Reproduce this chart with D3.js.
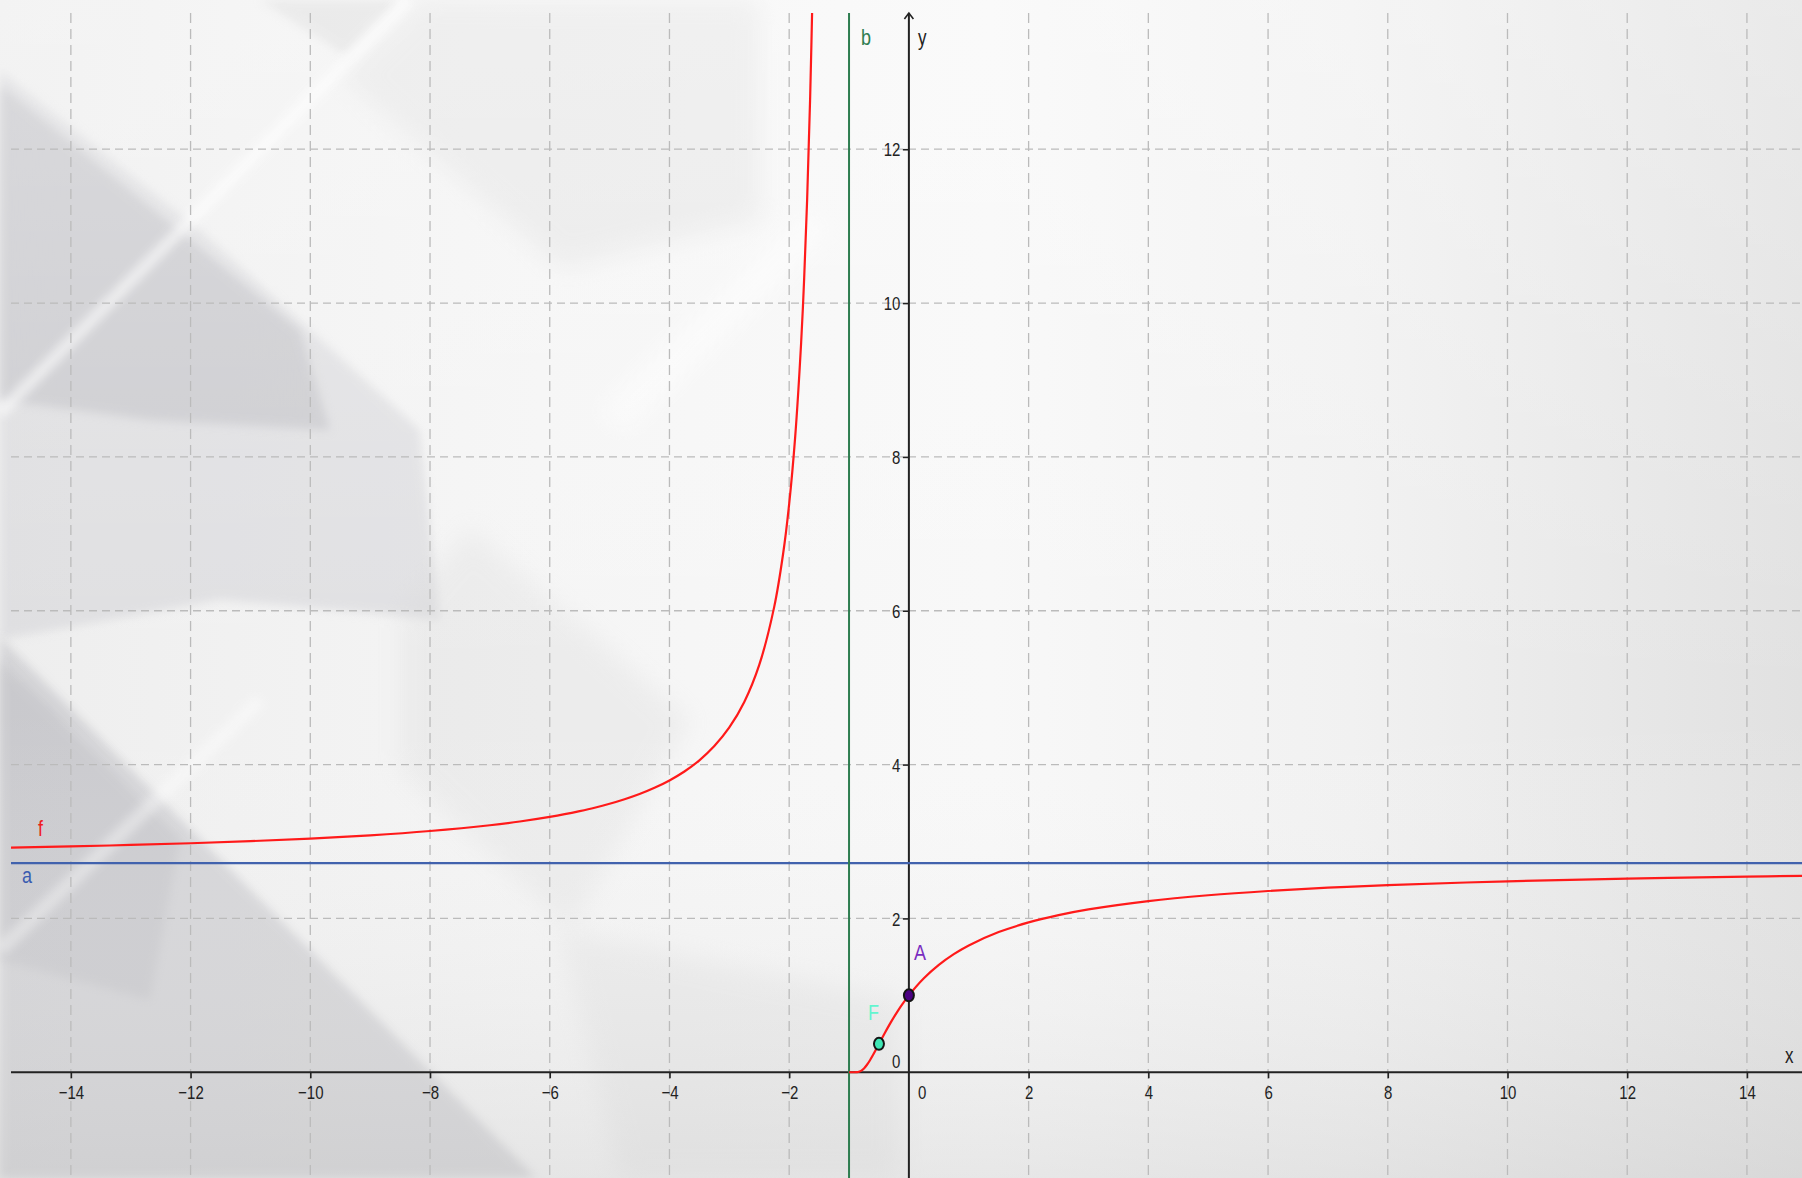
<!DOCTYPE html>
<html>
<head>
<meta charset="utf-8">
<script src="https://cdn.jsdelivr.net/npm/d3@7"></script>
<style>
  body { margin: 0; overflow: hidden; background: #f2f2f2; }
  svg { display: block; }
</style>
</head>
<body>
<div class="graph"></div>
<script>
// f(x), left and right of the pole at x = -1
var leftX = [-15, -14, -13, -12, -11, -10, -9, -8, -7, -6.5, -6, -5.75, -5.5, -5.25, -5, -4.75, -4.5, -4.25, -4, -3.75, -3.5, -3.25, -3, -2.75, -2.5, -2.25, -2.1, -2, -1.9, -1.8, -1.75, -1.7, -1.65, -1.6];
var leftY = [2.920, 2.936, 2.955, 2.977, 3.004, 3.038, 3.080, 3.136, 3.211, 3.260, 3.320, 3.355, 3.395, 3.439, 3.490, 3.549, 3.617, 3.698, 3.794, 3.910, 4.055, 4.240, 4.482, 4.814, 5.295, 6.050, 6.747, 7.389, 8.257, 9.488, 10.312, 11.343, 12.660, 14.392];
var rightX = [-1, -0.95, -0.9, -0.85, -0.8, -0.75, -0.7, -0.65, -0.6, -0.55, -0.5, -0.45, -0.4, -0.3, -0.2, -0.1, 0, 0.25, 0.5, 0.75, 1, 1.5, 2, 2.5, 3, 4, 5, 6, 7, 8, 10, 12, 14, 15];
var rightY = [0, 0, 0.0001, 0.0035, 0.0183, 0.0498, 0.0970, 0.1561, 0.2231, 0.2946, 0.3679, 0.4412, 0.5134, 0.6514, 0.7788, 0.8948, 1, 1.2214, 1.3956, 1.5351, 1.6487, 1.8221, 1.9477, 2.0427, 2.1170, 2.2255, 2.3010, 2.3564, 2.3989, 2.4324, 2.4821, 2.5170, 2.5430, 2.5536];

var lineA = 2.718;   // horizontal line a
var lineB = -1;      // vertical line b
var pointNames = ["A", "F"];
var pointX = [0, -0.5];
var pointY = [1, 0.37];

var xTicks = [-14, -12, -10, -8, -6, -4, -2, 2, 4, 6, 8, 10, 12, 14];
var yTicks = [2, 4, 6, 8, 10, 12];

var svg_w = 1802;
var svg_h = 1178;
var plotLeft = 11, plotTop = 13;
var stretch = 1.25; // the screenshot is stretched vertically

var svg = d3.select("div.graph").append("svg")
	.attr("width", svg_w)
	.attr("height", svg_h);

var x = d3.scaleLinear().domain([-15, 14.92]).range([plotLeft, svg_w]);
var y = d3.scaleLinear().domain([-1.375, 13.94]).range([svg_h, 0]);

var defs = svg.append("defs");

// background gradients
var g1 = defs.append("linearGradient").attr("id", "bgH")
	.attr("x1", 0).attr("x2", 1).attr("y1", 0).attr("y2", 0);
[["0%", "#eeeeee"], ["30%", "#f5f5f5"], ["55%", "#f8f8f8"], ["75%", "#f1f1f1"], ["100%", "#e1e1e1"]]
	.forEach(function(s) { g1.append("stop").attr("offset", s[0]).attr("stop-color", s[1]); });

var g2 = defs.append("linearGradient").attr("id", "bgV")
	.attr("x1", 0).attr("x2", 0).attr("y1", 0).attr("y2", 1);
g2.append("stop").attr("offset", "0%").attr("stop-color", "#ffffff").attr("stop-opacity", 0.3);
g2.append("stop").attr("offset", "60%").attr("stop-color", "#ffffff").attr("stop-opacity", 0);
g2.append("stop").attr("offset", "100%").attr("stop-color", "#c8c8c8").attr("stop-opacity", 0.35);

var pat = defs.append("pattern").attr("id", "stripes")
	.attr("width", 8).attr("height", 8)
	.attr("patternUnits", "userSpaceOnUse")
	.attr("patternTransform", "rotate(40)");
pat.append("rect").attr("width", 8).attr("height", 8).attr("fill", "#c6c6ca");
pat.append("rect").attr("width", 8).attr("height", 3).attr("fill", "#b2b2b8");

defs.append("filter").attr("id", "soft")
	.attr("x", "-20%").attr("y", "-20%").attr("width", "140%").attr("height", "140%")
	.append("feGaussianBlur").attr("stdDeviation", 5);
defs.append("filter").attr("id", "softer")
	.attr("x", "-20%").attr("y", "-20%").attr("width", "140%").attr("height", "140%")
	.append("feGaussianBlur").attr("stdDeviation", 12);

defs.append("clipPath").attr("id", "plotClip")
	.append("rect")
	.attr("x", plotLeft).attr("y", plotTop)
	.attr("width", svg_w - plotLeft).attr("height", svg_h - plotTop);

var bg = svg.append("g").attr("class", "background");
bg.append("rect").attr("width", svg_w).attr("height", svg_h).attr("fill", "url(#bgH)");

// diagonal grey bands of the picture background
var shapes = [
	{ pts: [[342, 77], [420, 0], [760, 0], [760, 220], [561, 268]], fill: "#dcdcdc", op: 0.45, f: "softer" },
	{ pts: [[260, 0], [400, 0], [345, 55]], fill: "#d4d4d4", op: 0.5, f: "soft" },
	{ pts: [[0, 70], [200, 230], [420, 430], [440, 620], [220, 600], [0, 640]], fill: "#d2d2d6", op: 0.55, f: "soft" },
	{ pts: [[0, 85], [190, 240], [300, 330], [330, 430], [150, 420], [0, 400]], fill: "url(#stripes)", op: 0.6, f: "soft" },
	{ pts: [[470, 528], [690, 720], [570, 930], [400, 770], [400, 610]], fill: "#d8d8d8", op: 0.3, f: "softer" },
	{ pts: [[0, 637], [536, 1178], [0, 1178]], fill: "#c9c9cd", op: 0.7, f: "soft" },
	{ pts: [[0, 660], [180, 840], [150, 1000], [0, 960]], fill: "url(#stripes)", op: 0.45, f: "soft" },
	{ pts: [[560, 930], [900, 1000], [900, 1178], [620, 1178]], fill: "#d8d8d8", op: 0.3, f: "softer" }
];
bg.selectAll("polygon.band")
	.data(shapes)
	.enter()
	.append("polygon")
	.attr("class", "band")
	.attr("points", function(d) { return d.pts.join(" "); })
	.attr("fill", function(d) { return d.fill; })
	.attr("opacity", function(d) { return d.op; })
	.attr("filter", function(d) { return "url(#" + d.f + ")"; });

// light rays
bg.append("path")
	.attr("d", "M0,413 L408,0")
	.attr("stroke", "#ffffff").attr("stroke-width", 12).attr("fill", "none")
	.attr("opacity", 0.6).attr("filter", "url(#soft)");
bg.append("path")
	.attr("d", "M0,950 L260,700")
	.attr("stroke", "#ffffff").attr("stroke-width", 14).attr("fill", "none")
	.attr("opacity", 0.4).attr("filter", "url(#soft)");
bg.append("path")
	.attr("d", "M612,421 L820,220")
	.attr("stroke", "#ffffff").attr("stroke-width", 30).attr("fill", "none")
	.attr("opacity", 0.5).attr("filter", "url(#softer)");
bg.append("rect").attr("width", svg_w).attr("height", svg_h).attr("fill", "url(#bgV)");

// grid
var grid = svg.append("g").attr("class", "grid");
grid.selectAll("line.gx")
	.data(xTicks)
	.enter()
	.append("line")
	.attr("class", "gx")
	.attr("x1", function(d) { return x(d); })
	.attr("x2", function(d) { return x(d); })
	.attr("y1", plotTop)
	.attr("y2", svg_h)
	.attr("stroke", "#bbbbbb")
	.attr("stroke-width", 1.3)
	.attr("stroke-dasharray", "10,6");
grid.selectAll("line.gy")
	.data(yTicks)
	.enter()
	.append("line")
	.attr("class", "gy")
	.attr("x1", plotLeft)
	.attr("x2", svg_w)
	.attr("y1", function(d) { return y(d); })
	.attr("y2", function(d) { return y(d); })
	.attr("stroke", "#bbbbbb")
	.attr("stroke-width", 1.3)
	.attr("stroke-dasharray", "8,5");

// axes
var axisColor = "#222";
var xAxis = d3.axisBottom(x).tickValues(xTicks).tickSize(6)
	.tickFormat(function(d) { return d < 0 ? "\u2212" + Math.abs(d) : d; });
var yAxis = d3.axisLeft(y).tickValues(yTicks).tickSize(6);

var gx = svg.append("g")
	.attr("transform", "translate(0," + y(0) + ")")
	.call(xAxis);
var gy = svg.append("g")
	.attr("transform", "translate(" + x(0) + ",0)")
	.call(yAxis);
[gx, gy].forEach(function(g) {
	g.select(".domain").remove();
	g.selectAll(".tick line").attr("stroke", axisColor).attr("stroke-width", 1.6);
	g.selectAll(".tick text")
		.attr("fill", axisColor)
		.style("font-family", "'Liberation Sans', Arial, sans-serif")
		.style("font-size", "15px");
});
gx.selectAll(".tick text")
	.attr("y", 21.4).attr("dy", 0)
	.attr("transform", "scale(1," + stretch + ")");
gy.selectAll(".tick text")
	.attr("x", -8.5).attr("dy", 0)
	.attr("y", 0)
	.attr("transform", "scale(1," + stretch + ") translate(0,5.3)");

svg.append("line")
	.attr("x1", plotLeft).attr("x2", svg_w)
	.attr("y1", y(0)).attr("y2", y(0))
	.attr("stroke", axisColor).attr("stroke-width", 2);
svg.append("line")
	.attr("x1", x(0)).attr("x2", x(0))
	.attr("y1", plotTop).attr("y2", svg_h)
	.attr("stroke", axisColor).attr("stroke-width", 2);
svg.append("path")
	.attr("d", "M" + (x(0) - 4.5) + "," + (plotTop + 6) + " L" + x(0) + "," + plotTop + " L" + (x(0) + 4.5) + "," + (plotTop + 6))
	.attr("fill", "none").attr("stroke", axisColor).attr("stroke-width", 1.6);

function label(txt, px, py, color, size) {
	svg.append("text")
		.attr("x", px)
		.attr("y", py / stretch)
		.attr("transform", "scale(1," + stretch + ")")
		.attr("fill", color)
		.style("font-family", "'Liberation Sans', Arial, sans-serif")
		.style("font-size", size + "px")
		.text(txt);
}
label("0", x(0) + 9, y(0) + 26.7, axisColor, 15);
label("0", x(0) - 17, y(0) - 4.5, axisColor, 15);
label("x", svg_w - 17, y(0) - 9, axisColor, 17);
label("y", x(0) + 9, plotTop + 32, axisColor, 17);

// objects
var plot = svg.append("g").attr("clip-path", "url(#plotClip)");

plot.append("line")
	.attr("x1", plotLeft).attr("x2", svg_w)
	.attr("y1", y(lineA)).attr("y2", y(lineA))
	.attr("stroke", "#4162ad").attr("stroke-width", 2.4);
plot.append("line")
	.attr("x1", x(lineB)).attr("x2", x(lineB))
	.attr("y1", plotTop).attr("y2", svg_h)
	.attr("stroke", "#2e7d50").attr("stroke-width", 2);

var curve = d3.line()
	.x(function(d) { return x(d[0]); })
	.y(function(d) { return y(d[1]); })
	.curve(d3.curveCatmullRom.alpha(0.5));

plot.selectAll("path.f")
	.data([d3.zip(leftX, leftY), d3.zip(rightX, rightY)])
	.enter()
	.append("path")
	.attr("class", "f")
	.attr("d", curve)
	.attr("fill", "none")
	.attr("stroke", "#ff1a1a")
	.attr("stroke-width", 2.2);

label("f", x(-15) + 27, y(leftY[0]) - 12, "#ee1c1c", 18);
label("a", x(-15) + 11, y(lineA) + 20, "#3a5cb0", 18);
label("b", x(lineB) + 12, plotTop + 32, "#2e7d50", 18);

var pointFill = ["#4b0082", "#3ee6b4"];
var labelFill = ["#7a2cc0", "#62f5cf"];
plot.selectAll("ellipse.pt")
	.data(pointNames)
	.enter()
	.append("ellipse")
	.attr("class", "pt")
	.attr("cx", function(d, i) { return x(pointX[i]); })
	.attr("cy", function(d, i) { return y(pointY[i]); })
	.attr("rx", 5)
	.attr("ry", 6)
	.attr("fill", function(d, i) { return pointFill[i]; })
	.attr("stroke", "#141414")
	.attr("stroke-width", 2);

label("A", x(0) + 5, y(1) - 35, labelFill[0], 18);
label("F", x(-0.5) - 11, y(0.37) - 24, labelFill[1], 18);
</script>
</body>
</html>
